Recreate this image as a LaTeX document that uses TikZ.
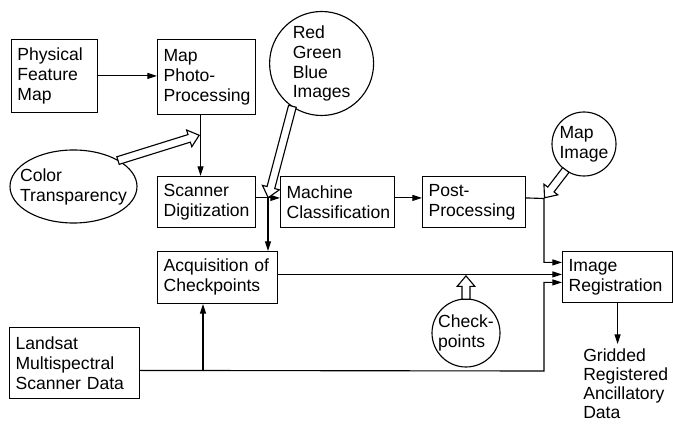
\documentclass[tikz,border=0pt]{standalone}
\usepackage{fontspec}
\setmainfont{Liberation Sans}
\usetikzlibrary{shapes.geometric, shapes.arrows, arrows.meta, positioning, calc}

\begin{document}
\begin{tikzpicture}[
    box/.style={
        draw, line width=0.8pt,
        anchor=south west,
        align=left,
        inner xsep=0.15cm, inner ysep=0pt,
        font=\fontsize{12.5}{14.2}\selectfont
    },
    bubble/.style={draw, line width=0.8pt, circle, inner sep=0pt},
    oval/.style={draw, line width=0.8pt, ellipse, inner sep=0pt},
    txt/.style={align=left, inner sep=0pt, font=\fontsize{12.5}{14.2}\selectfont},
    flow/.style={line width=0.8pt, -{Triangle[length=2.4mm, width=1.5mm]}},
    hollow/.style={
        single arrow, draw, fill=white, line width=0.8pt,
        inner xsep=0pt, inner ysep=0.085cm,
        single arrow head extend=0.12cm,
        single arrow tip angle=80
    }
]
\useasboundingbox (0,0) rectangle (16.825,10.65);

% ------- Processing boxes -------
\node[box, minimum height=1.825cm, text width=1.85cm] (phys) at (0.27, 7.825)
    {Physical\\Feature\\Map};
\node[box, minimum height=1.875cm, text width=2.15cm] (photo) at (3.925, 7.775)
    {Map\\Photo-\\Processing};
\node[box, minimum height=1.275cm, text width=2.15cm] (scan) at (3.925, 4.95)
    {Scanner\\Digitization};
\node[box, minimum height=1.275cm, text width=2.55cm] (mach) at (7.0, 4.95)
    {Machine\\Classification};
\node[box, minimum height=1.275cm, text width=2.275cm] (post) at (10.55, 4.95)
    {Post-\\Processing};
\node[box, minimum height=1.3cm, text width=2.7cm] (acq) at (3.925, 3.05)
    {Acquisition of\\Checkpoints};
\node[box, minimum height=1.275cm, text width=2.45cm] (reg) at (14.05, 3.075)
    {Image\\Registration};
\node[box, minimum height=1.775cm, text width=2.95cm] (land) at (0.225, 0.675)
    {Landsat\\Multispectral\\Scanner Data};
\node[txt, anchor=north west, inner ysep=0.1cm,
      font=\fontsize{12.5}{13.6}\selectfont] (out) at (14.575, 2.05)
    {Gridded\\Registered\\Ancillatory\\Data};

% ------- Input bubbles -------
\node[oval, minimum width=3.175cm, minimum height=1.825cm] (ct) at (1.8375, 5.9875) {};
\node[txt] (ct-t) at (ct) {Color\\Transparency};
\node[bubble, minimum size=2.6cm] (rgb) at (8.04, 9.0625) {};
\node[txt] (rgb-t) at (rgb) {Red\\Green\\Blue\\Images};
\node[bubble, minimum size=1.6cm] (mapimg) at (14.6, 7.05) {};
\node[txt] (mapimg-t) at (mapimg) {Map\\Image};
\node[bubble, minimum size=1.7cm] (chk) at (11.65, 2.325) {};
\node[txt] (chk-t) at (chk) {Check-\\points};

% ------- Junctions -------
\coordinate (tp) at (5.0, 7.275);
\coordinate (j1) at (6.7, 5.6875);
\coordinate (j2) at (5.075, 1.375);
\coordinate (mapjoin) at (13.6, 5.6875);
\coordinate (landjoin) at (13.6, 1.375);
\coordinate (chktip) at (11.65, 3.775);

% ------- Flow lines -------
\draw[flow] (phys.east) -- (phys.east -| photo.west);
\draw[flow] ([xshift=-0.15cm]photo.south) -- ([xshift=-0.15cm]scan.north);
\draw[flow] ([yshift=0.1cm]scan.east) -- ([yshift=0.1cm]mach.west);
\draw[flow] (j1) -- (j1 |- acq.north);
\draw[flow] ([yshift=0.1cm]mach.east) -- ([yshift=0.1cm]post.west);
\draw[flow] ([yshift=0.1cm]post.east) -- (mapjoin) |- ([yshift=0.3625cm]reg.west);
\draw[flow] ([yshift=0.075cm]acq.east) -- ([yshift=0.075cm]acq.east -| reg.west);
\draw[flow] ([yshift=-0.1875cm]land.east) -- (landjoin) |- ([yshift=-0.1375cm]reg.west);
\draw[flow] (j2) -- (j2 |- acq.south);
\draw[flow] (reg.south) -- (reg.south |- out.north);

% ------- Hollow input arrows -------
\path let \p1=($(tp)-(ct.30)$), \n1={atan2(\y1,\x1)}, \n2={veclen(\x1,\y1)} in
    node[hollow, minimum height=\n2, rotate=\n1, anchor=tip] (ct-arrow) at (tp) {};
\path let \p1=($(j1)-(rgb.236)$), \n1={atan2(\y1,\x1)}, \n2={veclen(\x1,\y1)} in
    node[hollow, minimum height=\n2, rotate=\n1, anchor=tip] (rgb-arrow) at (j1) {};
\path let \p1=($(mapjoin)-(mapimg.235)$), \n1={atan2(\y1,\x1)}, \n2={veclen(\x1,\y1)} in
    node[hollow, minimum height=\n2, rotate=\n1, anchor=tip] (mapimg-arrow) at (mapjoin) {};
\path let \p1=($(chktip)-(chk.north)$), \n1={atan2(\y1,\x1)}, \n2={veclen(\x1,\y1)} in
    node[hollow, minimum height=\n2, rotate=\n1, anchor=tip] (chk-arrow) at (chktip) {};
\end{tikzpicture}
\end{document}
